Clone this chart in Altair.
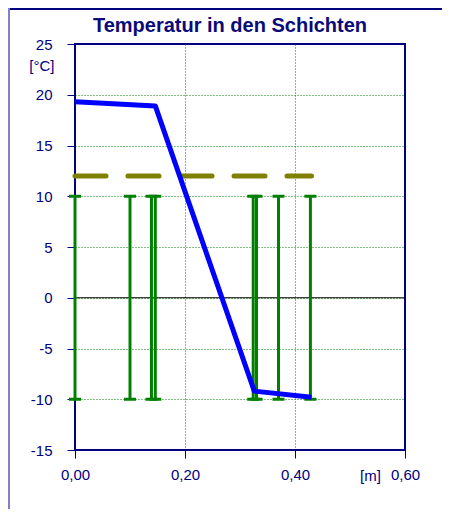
import altair as alt
import pandas as pd

# ---- data ----
layer_bounds = [0.0, 0.10, 0.139, 0.146, 0.324, 0.330, 0.37, 0.428]
bound_top = 10
bound_bottom = -10

temp_x = [0.0, 0.146, 0.326, 0.43]
temp_y = [19.3, 18.9, -9.2, -9.8]

dash_x = [0.0, 0.43]
dash_y = [12, 12]

x_ticks = [0.0, 0.2, 0.4, 0.6]
y_ticks = [-15, -10, -5, 0, 5, 10, 15, 20, 25]

title_text = "Temperatur in den Schichten"

NAVY = "#000080"
GREEN = "#008000"
FONT = "Liberation Sans"

W, H = 330, 406
PAD = {"left": 67, "top": 36, "right": 37, "bottom": 59}

xs = alt.Scale(domain=[0, 0.6], nice=False, zero=False)
ys = alt.Scale(domain=[-15, 25], nice=False, zero=False)

xaxis = alt.Axis(
    values=x_ticks, grid=True, gridColor=GREEN, gridDash=[1, 2], gridWidth=1, gridOpacity=1,
    domain=False, tickColor=NAVY, tickSize=8, tickWidth=1, labelFlush=False,
    labelColor=NAVY, labelFont=FONT, labelFontSize=15, labelPadding=9,
    labelExpr="replace(format(datum.value, '.2f'), '.', ',')",
    title="[m]", titleFont=FONT, titleFontSize=15, titleFontWeight="normal", titleColor=NAVY,
    titleX=295, titleY=18, titleAlign="center", titleBaseline="top",
)
yaxis = alt.Axis(
    values=y_ticks, grid=True, gridColor=GREEN, gridDash=[1, 2], gridWidth=1, gridOpacity=1,
    domain=False, tickColor=NAVY, tickSize=8, tickWidth=1, labelFlush=False,
    labelColor=NAVY, labelFont=FONT, labelFontSize=15, labelPadding=15,
    labelExpr="replace(format(datum.value, 'd'), '\u2212', '-')",
    title="[°C]", titleFont=FONT, titleFontSize=15, titleFontWeight="normal", titleColor=NAVY,
    titleAngle=0, titleX=-21, titleY=21, titleAlign="right", titleBaseline="middle",
)

X = alt.X("x:Q", scale=xs, axis=xaxis)
Y = alt.Y("y:Q", scale=ys, axis=yaxis)

zero_df = pd.DataFrame({"y": [0]})

# plot frame and outer frame lines (decoration)
plot_frame = alt.Chart(zero_df).mark_rect(fill=None, stroke=NAVY, strokeWidth=2).encode(
    x=alt.value(0), x2=alt.value(W), y=alt.value(0), y2=alt.value(H))
frame_top = alt.Chart(zero_df).mark_rule(color="#000080", strokeWidth=2).encode(
    x=alt.value(-67), x2=alt.value(W + 37), y=alt.value(-35))
frame_left = alt.Chart(zero_df).mark_rule(color="#8080c8", strokeWidth=2).encode(
    x=alt.value(-66), y=alt.value(-36), y2=alt.value(H + 59))

zero_rule = alt.Chart(zero_df).mark_rule(color="black", strokeWidth=1).encode(y=Y)

bounds_df = pd.DataFrame({"x": layer_bounds, "y": [bound_top] * len(layer_bounds),
                          "y2": [bound_bottom] * len(layer_bounds)})
bound_rules = alt.Chart(bounds_df).mark_rule(color=GREEN, strokeWidth=3).encode(
    x=X, y=Y, y2="y2:Q")

caps_df = pd.DataFrame({"x": layer_bounds * 2,
                        "y": [bound_top] * len(layer_bounds) + [bound_bottom] * len(layer_bounds)})
caps = alt.Chart(caps_df).mark_tick(color=GREEN, orient="horizontal", size=12, thickness=3,
                                    opacity=1).encode(x=X, y=Y)

dash_df = pd.DataFrame({"x": dash_x, "y": dash_y})
dashed = alt.Chart(dash_df).mark_line(color="#808000", strokeWidth=5, strokeDash=[31, 22],
                                      strokeCap="round").encode(x=X, y=Y)

temp_df = pd.DataFrame({"x": temp_x, "y": temp_y})
temp_line = alt.Chart(temp_df).mark_line(color="#0000ff", strokeWidth=5,
                                         strokeJoin="round").encode(x=X, y=Y)

title = alt.Chart(pd.DataFrame({"t": [title_text]})).mark_text(
    font=FONT, fontSize=20, fontWeight="bold", color="#0a0a78", align="center",
    baseline="alphabetic").encode(text="t:N", x=alt.value(155), y=alt.value(-12))

chart = alt.layer(
    plot_frame, zero_rule, bound_rules, caps, dashed, temp_line, frame_top, frame_left, title
).properties(
    width=W, height=H,
    autosize=alt.AutoSizeParams(type="none"),
    padding=PAD,
).configure_view(
    stroke=None
).configure(background="white")

chart.save("out.html", embed_options={"renderer": "svg", "actions": False})
